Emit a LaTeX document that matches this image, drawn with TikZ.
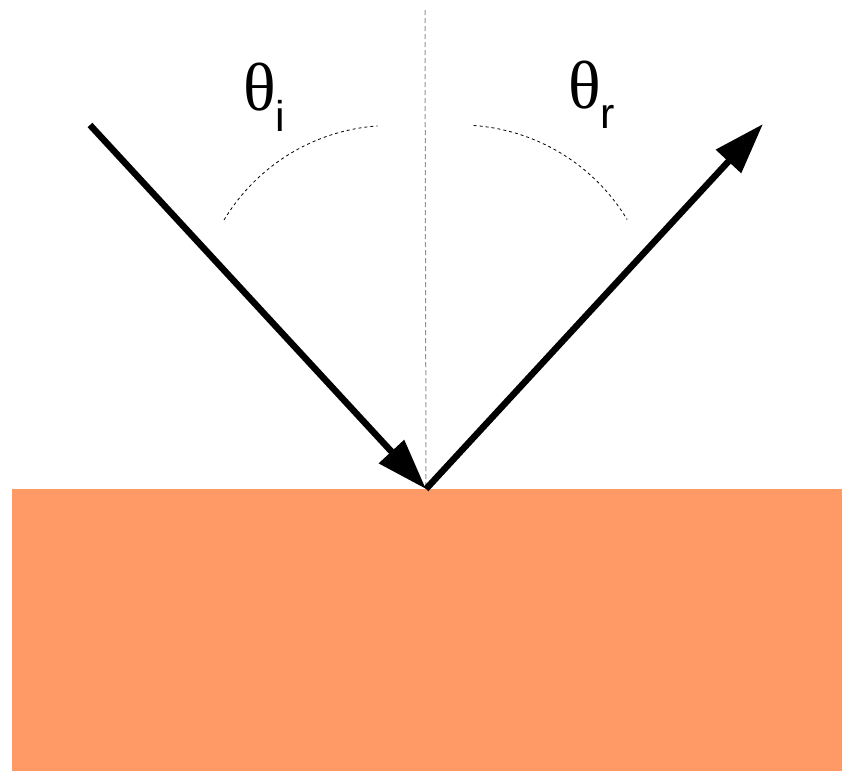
\documentclass[tikz,border=0pt]{standalone}
\usepackage{fontspec}
\setmainfont{Liberation Serif}
\newfontfamily\subfont{Liberation Sans}
\definecolor{SurfaceOrange}{HTML}{FF9966}
\usetikzlibrary{arrows.meta}

\begin{document}
\begin{tikzpicture}[x=1pt, y=-1pt, >={Triangle[length=51pt, width=33pt]}]
  \useasboundingbox (0,0) rectangle (842,772);

  % Surface
  \fill[SurfaceOrange] (12,489) rectangle (842,771);

  % Points of the rays
  \coordinate (src) at (90,125);
  \coordinate (hit) at (426,489);
  \coordinate (dst) at (763,124);
  \coordinate (normaltop) at (425,10);

  % Normal to the surface
  \draw[gray!85, line width=1pt, dash pattern=on 5pt off 3pt] (normaltop) -- (hit);

  % Angle arcs
  \draw[line width=0.8pt, dash pattern=on 3pt off 3pt]
    (224,220) arc[start angle=-149, end angle=-94, radius=195];
  \draw[line width=0.8pt, dash pattern=on 3pt off 3pt]
    (473.6,125.5) arc[start angle=-86, end angle=-31, radius=195];

  % Incident and reflected rays
  \draw[->, line width=6.5pt] (src) -- (hit);
  \draw[->, line width=6.5pt] (hit) -- (dst);

  % Labels
  \node[anchor=base west, inner sep=0] (thetai) at (243,110)
    {\fontsize{68}{68}\selectfont θ\raisebox{-21pt}{\subfont\fontsize{43}{43}\selectfont i}};
  \node[anchor=base west, inner sep=0] (thetar) at (568,108)
    {\fontsize{68}{68}\selectfont θ\raisebox{-20pt}{\subfont\fontsize{43}{43}\selectfont r}};
\end{tikzpicture}
\end{document}
